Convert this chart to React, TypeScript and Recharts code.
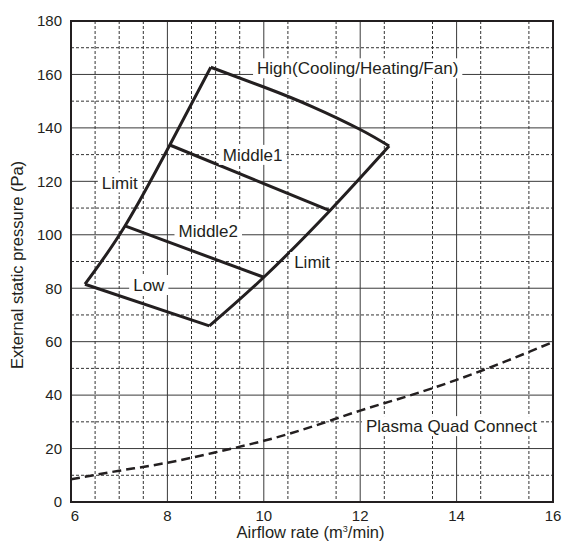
import { LineChart, Line, XAxis, YAxis, CartesianGrid, ReferenceArea, ReferenceDot } from 'recharts';

// axes
const X_TICKS = [6, 8, 10, 12, 14, 16];
const Y_TICKS = [0, 20, 40, 60, 80, 100, 120, 140, 160, 180];
const X_MAJOR = [8, 10, 12, 14];
const X_MINOR = [6.5, 7, 7.5, 8.5, 9, 9.5, 10.5, 11, 11.5, 12.5, 13, 13.5, 14.5, 15, 15.5];
const Y_MAJOR = [20, 40, 60, 80, 100, 120, 140, 160];
const Y_MINOR = [10, 30, 50, 70, 90, 110, 130, 150, 170];

// operating envelope (airflow m3/min, pressure Pa)
const limitLeft = [
  { x: 6.29, y: 81.5 },
  { x: 7.12, y: 103.3 },
  { x: 8.05, y: 133.6 },
  { x: 8.9, y: 162.7 },
];
const high = [
  { x: 8.9, y: 162.7 },
  { x: 10, y: 155.3 },
  { x: 11, y: 148 },
  { x: 12, y: 139.4 },
  { x: 12.6, y: 133.2 },
];
const limitRight = [
  { x: 8.87, y: 65.9 },
  { x: 10, y: 84.1 },
  { x: 11.37, y: 109 },
  { x: 12.6, y: 133.2 },
];
const low = [
  { x: 6.29, y: 81.5 },
  { x: 8.87, y: 65.9 },
];
const middle2 = [
  { x: 7.12, y: 103.3 },
  { x: 10, y: 84.1 },
];
const middle1 = [
  { x: 8.05, y: 133.6 },
  { x: 11.37, y: 109 },
];

// duct curve
const plasma = [
  { x: 6, y: 8.5 },
  { x: 7, y: 11.7 },
  { x: 8, y: 14.7 },
  { x: 9, y: 18.6 },
  { x: 10, y: 22.9 },
  { x: 11, y: 28.2 },
  { x: 12, y: 34.2 },
  { x: 13, y: 39.7 },
  { x: 14, y: 45.7 },
  { x: 15, y: 52.5 },
  { x: 16, y: 59.9 },
];

const labels = [
  { text: 'High(Cooling/Heating/Fan)', x: 9.86, y: 162.3 },
  { text: 'Middle1', x: 9.15, y: 129.9 },
  { text: 'Limit', x: 6.64, y: 119.6 },
  { text: 'Middle2', x: 8.23, y: 101.4 },
  { text: 'Limit', x: 10.63, y: 89.8 },
  { text: 'Low', x: 7.29, y: 81.2 },
  { text: 'Plasma Quad Connect', x: 12.12, y: 28.4 },
];

const INK = '#231f20';
const FONT = "'Liberation Sans', Arial, sans-serif";
const LABEL_SIZE = 17;

let ctx: CanvasRenderingContext2D | null = null;
function textWidth(s: string) {
  if (!ctx) ctx = document.createElement('canvas').getContext('2d');
  if (!ctx) return s.length * LABEL_SIZE * 0.55;
  ctx.font = `${LABEL_SIZE}px ${FONT}`;
  return ctx.measureText(s).width;
}

function BoxLabel(props: any) {
  const { cx, cy, text } = props;
  if (cx == null || cy == null) return null;
  const w = textWidth(text);
  return (
    <g>
      <rect x={cx - 4} y={cy - 10} width={w + 8} height={20} fill="#fff" />
      <text x={cx} y={cy} dy="0.36em" fontSize={LABEL_SIZE} fontFamily={FONT} fill={INK}>
        {text}
      </text>
    </g>
  );
}

function XTick(props: any) {
  const { x, y, payload } = props;
  // the first label sits a little right of its gridline, clear of the y axis "0"
  const shift = payload.value === 6 ? 4 : 0;
  return (
    <text x={x + shift} y={y} dy="0.71em" textAnchor="middle" fontSize={15} fontFamily={FONT} fill={INK}>
      {payload.value}
    </text>
  );
}

function XTitle(props: any) {
  const vb = props.viewBox || {};
  const cx = vb.x + vb.width / 2 - 1.5;
  return (
    <text x={cx} y={538} textAnchor="middle" fontSize={16.5} fontFamily={FONT} fill={INK}>
      <tspan>Airflow rate (m</tspan>
      <tspan fontSize={9} dy={-6}>3</tspan>
      <tspan dy={6}>/min)</tspan>
    </text>
  );
}

function YTitle() {
  return (
    <text
      x={22.7}
      y={265}
      transform="rotate(-90, 22.7, 265)"
      textAnchor="middle"
      fontSize={16.5}
      fontFamily={FONT}
      fill={INK}
    >
      External static pressure (Pa)
    </text>
  );
}

export default function App() {
  const lineProps = {
    dataKey: 'y',
    stroke: INK,
    strokeWidth: 3,
    dot: false,
    activeDot: false,
    isAnimationActive: false,
    strokeLinejoin: 'miter' as const,
  };
  return (
    <div style={{ position: 'absolute', left: 0, top: 0, background: '#fff' }}>
      <LineChart width={562} height={542} margin={{ top: 21, right: 9, bottom: 10, left: 25 }}>
        <CartesianGrid
          stroke="#333"
          strokeWidth={1}
          strokeDasharray="3 2"
          horizontalValues={Y_MINOR}
          verticalValues={X_MINOR}
        />
        <CartesianGrid stroke="#3a3a3a" strokeWidth={1} horizontalValues={Y_MAJOR} verticalValues={X_MAJOR} />
        <XAxis
          type="number"
          dataKey="x"
          domain={[6, 16]}
          ticks={X_TICKS}
          allowDataOverflow
          axisLine={false}
          tickLine={false}
          height={30}
          tick={<XTick />}
          label={{ content: XTitle }}
        />
        <YAxis
          type="number"
          dataKey="y"
          domain={[0, 180]}
          ticks={Y_TICKS}
          allowDataOverflow
          axisLine={false}
          tickLine={false}
          width={46}
          tickMargin={3}
          tick={{ fontSize: 15, fontFamily: FONT, fill: INK }}
          label={{ content: YTitle }}
        />
        <ReferenceArea x1={6} x2={16} y1={0} y2={180} fill="none" stroke={INK} strokeWidth={2} />
        {labels.map((l, i) => (
          <ReferenceDot
            key={i}
            x={l.x}
            y={l.y}
            r={0}
            shape={(p: any) => <BoxLabel {...p} text={l.text} />}
          />
        ))}
        <Line {...lineProps} data={limitLeft} type="natural" />
        <Line {...lineProps} data={high} type="natural" />
        <Line {...lineProps} data={limitRight} type="natural" />
        <Line {...lineProps} data={low} type="linear" />
        <Line {...lineProps} data={middle2} type="linear" />
        <Line {...lineProps} data={middle1} type="linear" />
        <Line {...lineProps} data={plasma} type="natural" strokeWidth={2.5} strokeDasharray="9 5" />
      </LineChart>
    </div>
  );
}
